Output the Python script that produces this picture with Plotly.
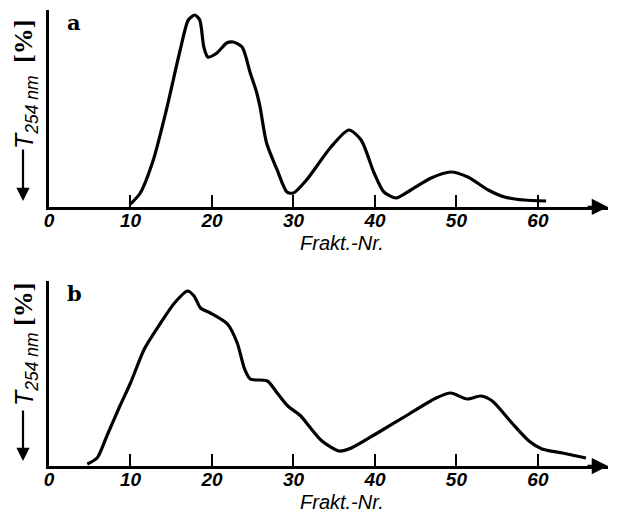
import plotly.graph_objects as go

# ---- data (y in relative transmission units) ----
frak_a = [10, 11.2, 12.8, 14.4, 16.1, 17.1, 17.9, 18.5, 19.0, 19.5, 20.6, 21.8, 22.6, 23.7,
          24.7, 25.5, 25.9, 26.7, 28.0, 29.2, 30.0, 31.6, 34.6, 36.8, 38.3, 39.9, 41.1,
          42.6, 44.4, 46.9, 49.3, 51.4, 53.9, 55.9, 58.3, 61.0]
t_a = [3, 14, 47, 97, 157, 187, 192, 187, 160, 150, 154, 164, 165, 160,
       134, 114, 100, 64, 37, 15, 14, 27, 60, 77, 67, 34, 15,
       9, 17, 29, 35, 30, 17, 10, 7, 6]

frak_b = [4.7, 5.9, 7.1, 8.7, 10.0, 11.7, 13.7, 15.4, 17.0, 17.8, 18.6, 19.8, 21.9, 23.1,
          24.0, 24.7, 26.8, 28.0, 29.3, 30.9, 31.9, 33.5, 35.6, 37.1, 40.1, 44.2, 47.5,
          49.3, 51.3, 53.0, 54.4, 56.8, 58.9, 60.5, 63.0, 65.9]
t_b = [2, 8, 30, 60, 83, 117, 143, 163, 175, 170, 158, 153, 142, 123,
       97, 87, 85, 73, 60, 50, 40, 25, 15, 18, 32, 52, 68,
       73, 67, 70, 65, 43, 25, 17, 13, 8]

tick_vals = [0, 10, 20, 30, 40, 50, 60]
tick_text = ["0", "10", "20", "30", "40", "50", "60"]
x_title = "Frakt.-Nr."
panel_labels = ["a", "b"]

X_MAX = 68.6
YA_MAX = 197
YB_MAX = 185

fig = go.Figure()
fig.add_trace(go.Scatter(x=frak_a, y=t_a, mode="lines", xaxis="x", yaxis="y",
                         line=dict(color="black", width=3.2, shape="spline", smoothing=0.7),
                         showlegend=False, hoverinfo="skip"))
fig.add_trace(go.Scatter(x=frak_b, y=t_b, mode="lines", xaxis="x2", yaxis="y2",
                         line=dict(color="black", width=3.2, shape="spline", smoothing=0.7),
                         showlegend=False, hoverinfo="skip"))

tick_font = dict(family="Liberation Sans, Arial", size=19, color="black",
                 style="italic", weight="bold")
xax = dict(range=[0, X_MAX], showgrid=False, zeroline=False, showline=True,
           linecolor="black", linewidth=2.5, ticks="inside", ticklen=12, tickwidth=1.5,
           tickcolor="black", tickvals=tick_vals, ticktext=tick_text, tickfont=tick_font,
           ticklabelstandoff=-6, fixedrange=True)
yax = dict(showgrid=False, zeroline=False, showline=True, linecolor="black", linewidth=2.5,
           showticklabels=False, ticks="", fixedrange=True)

fig.update_layout(
    width=622, height=512,
    margin=dict(l=49, r=14, t=10, b=46),
    paper_bgcolor="white", plot_bgcolor="white",
    xaxis=dict(xax, domain=[0, 1], anchor="y"),
    yaxis=dict(yax, domain=[0.568, 1.0], range=[0, YA_MAX], anchor="x"),
    xaxis2=dict(xax, domain=[0, 1], anchor="y2"),
    yaxis2=dict(yax, domain=[0.0, 0.4057], range=[0, YB_MAX], anchor="x2"),
)

title_font = dict(family="Liberation Sans, Arial", size=20, color="black", style="italic")
label_font = dict(family="DejaVu Serif, Liberation Serif", size=21, color="black", weight="bold")
ylab_font = dict(family="Liberation Sans, Arial", size=25, color="black", style="italic")
pct_font = dict(family="Liberation Serif, DejaVu Serif", size=26, color="black", weight="bold")

anns = []
for xr, yr, ymax, lab in [("x", "y", YA_MAX, panel_labels[0]),
                          ("x2", "y2", YB_MAX, panel_labels[1])]:
    # axis arrow head
    anns.append(dict(x=X_MAX, y=0, xref=xr, yref=yr, ax=-22, ay=0, text="", showarrow=True,
                     arrowhead=2, arrowsize=1.3, arrowwidth=2.5, arrowcolor="black"))
    # x-axis title
    anns.append(dict(x=35.9, y=0, xref=xr, yref=yr, yshift=-36, text=x_title, showarrow=False,
                     font=title_font, xanchor="center", yanchor="middle"))
    # panel letter
    anns.append(dict(x=0, y=ymax, xref=xr, yref=yr, xshift=25, yshift=-12,
                     text=lab, showarrow=False, font=label_font, xanchor="center", yanchor="middle"))

# y-axis labels (paper coords computed from pixel layout)
H = 512 - 10 - 46
def py(pix):
    return (512 - 46 - pix) / H

def px(pix):
    return (pix - 49) / (622 - 49 - 14)

for (arr_top, arr_bot, t_mid, pct_mid) in [(148, 201, 112, 42), (409, 461, 369, 305)]:
    anns.append(dict(x=px(23), y=py(arr_bot), xref="paper", yref="paper",
                     ax=0, ay=-(arr_bot - arr_top), axref="pixel", ayref="pixel",
                     text="", showarrow=True, arrowhead=2, arrowsize=1.2, arrowwidth=2.2,
                     arrowcolor="black"))
    anns.append(dict(x=px(26), y=py(t_mid), xref="paper", yref="paper",
                     text="T<sub>254 nm</sub>", textangle=-90, showarrow=False,
                     font=ylab_font, xanchor="center", yanchor="middle"))
    anns.append(dict(x=px(23), y=py(pct_mid), xref="paper", yref="paper",
                     text="[%]", textangle=-90, showarrow=False,
                     font=pct_font, xanchor="center", yanchor="middle"))

fig.update_layout(annotations=anns)
fig.write_html("out.html", config={"displayModeBar": False},
               post_script="document.body.style.margin='0';document.body.style.padding='0';")
